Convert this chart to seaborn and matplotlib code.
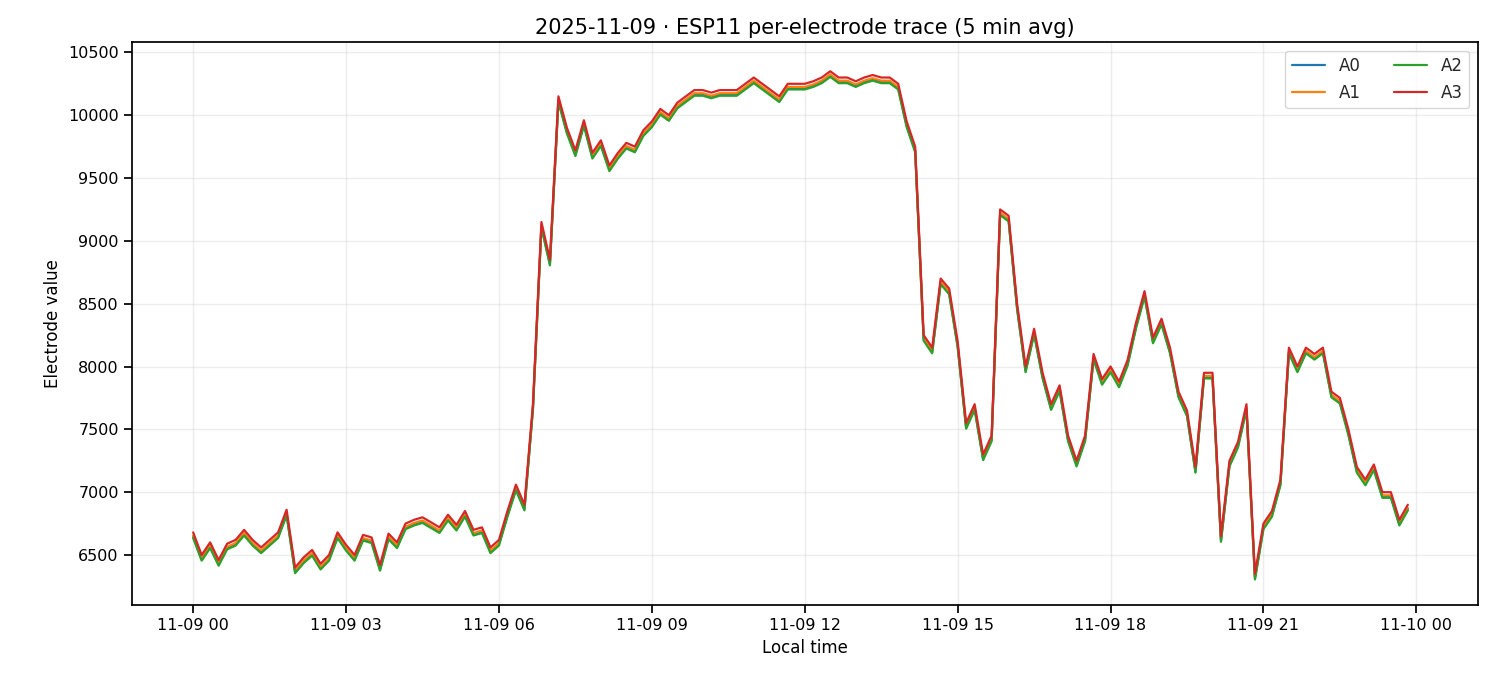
import pandas as pd
import numpy as np
import matplotlib
matplotlib.use("Agg")
import matplotlib.pyplot as plt
import matplotlib.dates as mdates
import seaborn as sns

# A3 trace, 10-minute steps starting 00:00
a3 = [6680, 6500, 6600, 6460, 6590, 6620,
      6700, 6620, 6560, 6620, 6680, 6860,
      6400, 6480, 6540, 6430, 6500, 6680,
      6580, 6500, 6660, 6640, 6420, 6670,
      6600, 6750, 6780, 6800, 6760, 6720,
      6820, 6740, 6850, 6700, 6720, 6560,
      6620, 6850, 7060, 6900, 7700, 9150,
      8850, 10150, 9900, 9720, 9960, 9700,
      9800, 9600, 9700, 9780, 9750, 9880,
      9950, 10050, 10000, 10100, 10150, 10200,
      10200, 10180, 10200, 10200, 10200, 10250,
      10300, 10250, 10200, 10150, 10250, 10250,
      10250, 10270, 10300, 10350, 10300, 10300,
      10270, 10300, 10320, 10300, 10300, 10250,
      9950, 9750, 8250, 8150, 8700, 8620,
      8200, 7550, 7700, 7300, 7450, 9250,
      9200, 8500, 8000, 8300, 7950, 7700,
      7850, 7450, 7250, 7450, 8100, 7900,
      8000, 7880, 8050, 8350, 8600, 8230,
      8380, 8150, 7800, 7650, 7200, 7950,
      7950, 6650, 7250, 7400, 7700, 6350,
      6750, 6850, 7100, 8150, 8000, 8150,
      8100, 8150, 7800, 7750, 7500, 7200,
      7100, 7220, 7000, 7000, 6780, 6900]
# offsets of the other electrodes relative to A3
offsets = {"A0": -35, "A1": -25, "A2": -45, "A3": 0}

times = pd.date_range("2025-11-09 00:00", periods=len(a3), freq="10min")
rows = []
for name, off in offsets.items():
    for t, v in zip(times, a3):
        rows.append((t, v + off, name))
df = pd.DataFrame(rows, columns=["time", "value", "electrode"])

sns.set_theme(style="ticks")
plt.rcParams['font.family'] = ['DejaVu Sans']
fig, ax = plt.subplots(figsize=(15, 6.75), dpi=100)
sns.lineplot(data=df, x="time", y="value", hue="electrode",
             palette=["#1f77b4", "#ff7f0e", "#2ca02c", "#d62728"], linewidth=1.6, ax=ax)
ax.set_title("2025-11-09 · ESP11 per-electrode trace (5 min avg)", fontsize=15, color="black")
ax.set_xlabel("Local time", fontsize=12, color="black")
ax.set_ylabel("Electrode value", fontsize=12, color="black")
ax.xaxis.set_major_locator(mdates.HourLocator(byhour=range(0, 24, 3)))
ax.xaxis.set_major_formatter(mdates.DateFormatter("%m-%d %H"))
ax.set_xlim(pd.Timestamp("2025-11-08 22:48"), pd.Timestamp("2025-11-10 01:12"))
ax.set_yticks(range(6500, 10501, 500))
ax.set_ylim(6100, 10580)
ax.tick_params(labelsize=11.5, colors="black")
for s in ax.spines.values():
    s.set_color("black")
ax.grid(True, alpha=0.35)
ax.legend(ncol=2, loc="upper right", fontsize=12, title=None)
plt.tight_layout()
plt.subplots_adjust(left=0.088, right=0.985)
plt.savefig("out.png", dpi=100)
